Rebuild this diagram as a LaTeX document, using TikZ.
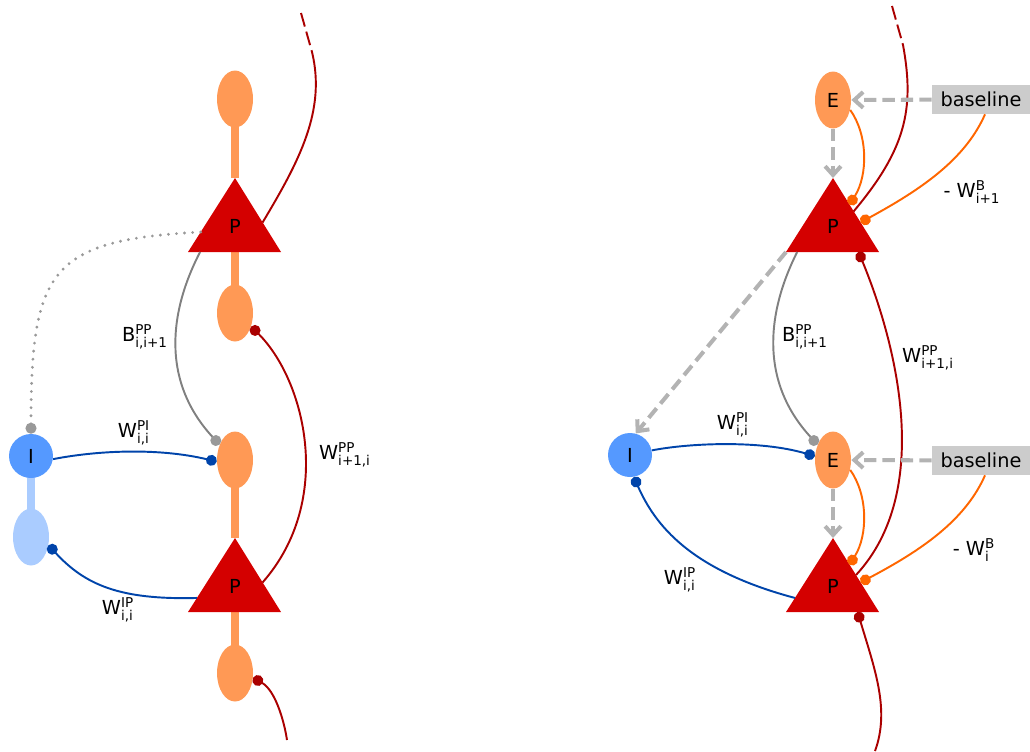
\documentclass[tikz,border=0pt]{standalone}
\usepackage{amsmath}
\usepackage{fontspec}
\setmainfont{DejaVu Sans}
\usepackage{tikz}
\usetikzlibrary{
    arrows.meta,
    shapes.geometric,
    backgrounds,
    calc
}
\definecolor{dendorange}{HTML}{FF9955}
\definecolor{somared}{HTML}{D40000}
\definecolor{axonred}{HTML}{AA0000}
\definecolor{interblue}{HTML}{5599FF}
\definecolor{interlight}{HTML}{AACCFF}
\definecolor{synblue}{HTML}{0044AA}
\definecolor{fbgray}{HTML}{808080}
\definecolor{dotgray}{HTML}{999999}
\definecolor{biasorange}{HTML}{FF6600}
\definecolor{arrowgray}{HTML}{B3B3B3}
\definecolor{boxgray}{HTML}{CCCCCC}
\newcommand{\syn}[3]{#1$^{\text{#2}}_{\text{#3}}$}
\tikzset{
    syndot/.tip={Circle[length=6.2pt]},
    dendrite/.style={
        ellipse, fill=dendorange, inner sep=0pt,
        minimum width=0.72cm, minimum height=1.14cm
    },
    inter dendrite/.style={
        dendrite, fill=interlight
    },
    inter/.style={
        circle, fill=interblue, inner sep=0pt,
        minimum size=0.88cm
    },
    soma label/.style={
        inner sep=0pt
    },
    baseline box/.style={
        rectangle, fill=boxgray, inner sep=0pt,
        minimum width=1.96cm, minimum height=0.58cm
    },
    stem/.style={
        line width=4.5pt, draw=#1
    },
    stem/.default={dendorange},
    syn line/.style={
        line width=1.1pt, draw=#1
    },
    red syn/.style={syn line=axonred},
    blue syn/.style={syn line=synblue},
    bias syn/.style={syn line=biasorange},
    fb line/.style={
        syn line=fbgray, -{Circle[length=6.2pt, color=dotgray]}
    },
    dotted link/.style={
        line width=1.8pt, draw=dotgray, line cap=round,
        dash pattern=on 0pt off 4.6pt, -{Circle[length=6.2pt]}
    },
    gray arrow/.style={
        line width=2.3pt, draw=arrowgray, dash pattern=on 7pt off 3.5pt,
        -{Straight Barb[length=5pt, width=9pt]}
    },
    dashed end/.style={
        dash pattern=on 8pt off 3pt
    },
}

\begin{document}
\begin{tikzpicture}[x=0.02cm, y=-0.02cm, font=\fontsize{11}{13}\selectfont]

    \useasboundingbox (0,0) rectangle (1030,751);

    % Somata
    \foreach \name/\cx/\cy in {p1/235/226, p2/235/586, p3/833/226, p4/833/586} {
        \coordinate (\name a) at (\cx,\cy-48);
        \coordinate (\name l) at (\cx-47,\cy+26);
        \coordinate (\name r) at (\cx+46,\cy+26);
        \coordinate (\name b) at (\cx,\cy+26);
        \fill[somared] (\name a) -- (\name l) -- (\name r) -- cycle;
        \node[soma label] (\name) at (\cx,\cy) {P};
    }

    % Left: dendrites and interneuron
    \node[dendrite] (ap1) at (235,99) {};
    \node[dendrite] (bd1) at (235,313) {};
    \node[dendrite] (ap2) at (235,460) {};
    \node[dendrite] (bd2) at (235,673) {};
    \node[inter] (in1) at (31,456) {I};
    \node[inter dendrite] (ib1) at (31,537) {};

    \begin{scope}[on background layer]
        \draw[stem] (ap1.center) -- (p1a);
        \draw[stem] (p1b) -- (bd1.center);
        \draw[stem] (ap2.center) -- (p2a);
        \draw[stem] (p2b) -- (bd2.center);
        \draw[stem=interlight] (in1.center) -- (ib1.center);
    \end{scope}

    % Right: collapsed dendrites, interneuron, baselines
    \node[dendrite] (e1) at (833,100) {E};
    \node[dendrite] (e2) at (833,460) {E};
    \node[inter] (in2) at (630,455) {I};
    \node[baseline box] (base1) at (981,99.5) {baseline};
    \node[baseline box] (base2) at (981,460.5) {baseline};

    \coordinate (up1) at (301,13);
    \coordinate (up1m) at (312,52);
    \coordinate (down1) at (287,740);
    \coordinate (up2) at (892,6);
    \coordinate (up2m) at (903,45);
    \coordinate (down2) at (875,751);

    % Left flows
    \draw[red syn, dashed end] (up1) -- (up1m);
    \draw[red syn] (up1m) .. controls (326,110) and (300,160) .. ($(p1a)!0.6!(p1r)$);
    \draw[red syn, syndot-] (bd1.-40) .. controls (305,380) and (335,500) .. ($(p2a)!0.6!(p2r)$);
    \draw[red syn, syndot-] (bd2.-15) .. controls (275,690) and (284,720) .. (down1);
    \draw[fb line] ($(p1l)!0.13!(p1r)$) .. controls (170,310) and (160,380) .. (ap2.135);
    \draw[dotted link] ($(p1a)!0.73!(p1l)$) .. controls (50,240) and (31,270) .. (in1.north);
    \draw[blue syn, -syndot] (in1.-8) .. controls (100,450) and (160,448) .. (ap2.185);
    \draw[blue syn, -syndot] ($(p2a)!0.81!(p2l)$) .. controls (120,600) and (85,585) .. (ib1.-25);

    \node at (145,337) {\syn{B}{PP}{i,i+1}};
    \node at (134,433) {\syn{W}{PI}{i,i}};
    \node at (118,610) {\syn{W}{IP}{i,i}};
    \node at (345,455) {\syn{W}{PP}{i+1,i}};

    % Right flows
    \draw[red syn, dashed end] (up2) -- (up2m);
    \draw[red syn] (up2m) .. controls (915,110) and (905,150) .. ($(p3a)!0.45!(p3r)$);
    \draw[red syn, syndot-] ($(p3l)!0.78!(p3r)$) .. controls (895,340) and (935,490) .. ($(p4a)!0.5!(p4r)$);
    \draw[red syn, syndot-] ($(p4l)!0.77!(p4r)$) .. controls (875,670) and (890,710) .. (down2);
    \draw[fb line] ($(p3l)!0.12!(p3r)$) .. controls (768,310) and (758,380) .. (e2.135);
    \draw[gray arrow] (p3l) -- (in2.75);
    \draw[blue syn, -syndot] (in2.12) .. controls (690,443) and (760,440) .. (e2.168);
    \draw[blue syn, syndot-] (in2.-80) .. controls (655,525) and (690,570) .. ($(p4a)!0.81!(p4l)$);

    \draw[gray arrow] (base1) -- (e1);
    \draw[gray arrow] (e1) -- (p3a);
    \draw[bias syn, -syndot] (e1.-30) .. controls (868,135) and (868,175) .. ($(p3a)!0.36!(p3r)$);
    \draw[bias syn, -syndot] (base1.-75) .. controls (965,160) and (920,190) .. ($(p3a)!0.6!(p3r)$);

    \draw[gray arrow] (base2) -- (e2);
    \draw[gray arrow] (e2) -- (p4a);
    \draw[bias syn, -syndot] (e2.-30) .. controls (868,495) and (868,535) .. ($(p4a)!0.36!(p4r)$);
    \draw[bias syn, -syndot] (base2.-75) .. controls (965,521) and (920,551) .. ($(p4a)!0.6!(p4r)$);

    \node at (805,337) {\syn{B}{PP}{i,i+1}};
    \node at (733,425) {\syn{W}{PI}{i,i}};
    \node at (680,580) {\syn{W}{IP}{i,i}};
    \node at (928,358) {\syn{W}{PP}{i+1,i}};
    \node at (972,192) {- \syn{W}{B}{i+1}};
    \node at (974,550) {- \syn{W}{B}{i}};

\end{tikzpicture}
\end{document}
